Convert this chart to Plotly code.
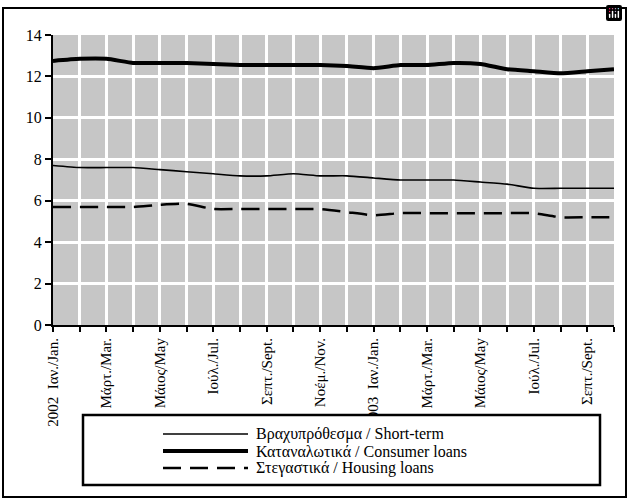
import plotly.graph_objects as go

months = ["2002-01", "2002-02", "2002-03", "2002-04", "2002-05", "2002-06",
          "2002-07", "2002-08", "2002-09", "2002-10", "2002-11", "2002-12",
          "2003-01", "2003-02", "2003-03", "2003-04", "2003-05", "2003-06",
          "2003-07", "2003-08", "2003-09", "2003-10"]

tick_labels = ["2002  Ιαν./Jan.", "", "Μάρτ./Mar.", "", "Μάιος/May", "",
               "Ιούλ./Jul.", "", "Σεπτ./Sept.", "", "Νοέμ./Nov.", "",
               "2003  Ιαν./Jan.", "", "Μάρτ./Mar.", "", "Μάιος/May", "",
               "Ιούλ./Jul.", "", "Σεπτ./Sept.", ""]

short_term = [7.7, 7.6, 7.6, 7.6, 7.5, 7.4, 7.3, 7.2, 7.2, 7.3, 7.2, 7.2,
              7.1, 7.0, 7.0, 7.0, 6.9, 6.8, 6.6, 6.6, 6.6, 6.6]
consumer = [12.75, 12.85, 12.85, 12.65, 12.65, 12.65, 12.6, 12.55, 12.55, 12.55, 12.55, 12.5,
            12.4, 12.55, 12.55, 12.65, 12.6, 12.35, 12.25, 12.15, 12.25, 12.35]
housing = [5.7, 5.7, 5.7, 5.7, 5.8, 5.85, 5.6, 5.6, 5.6, 5.6, 5.6, 5.45,
           5.3, 5.4, 5.4, 5.4, 5.4, 5.4, 5.4, 5.2, 5.2, 5.2]

names = ["Βραχυπρόθεσμα / Short-term", "Καταναλωτικά / Consumer loans",
         "Στεγαστικά / Housing loans"]

FONT = "Liberation Serif"

styles = [dict(color="black", width=1.6),
          dict(color="black", width=4),
          dict(color="black", width=2.5, dash="18px,9px")]
series = [short_term, consumer, housing]

fig = go.Figure()
for name, vals, st in zip(names, series, styles):
    fig.add_trace(go.Scatter(x=months, y=vals, name=name, mode="lines",
                             line=dict(shape="spline", smoothing=0.5, **st)))

def px_x(p):
    return (p - 53) / 561.0

def px_y(p):
    return (325 - p) / 290.0

shapes = [
    dict(type="rect", xref="paper", yref="paper",
         x0=px_x(3), x1=px_x(626), y0=px_y(497), y1=px_y(8),
         line=dict(color="black", width=2), fillcolor="rgba(0,0,0,0)", layer="above"),
    dict(type="rect", xref="paper", yref="paper",
         x0=px_x(83), x1=px_x(600), y0=px_y(485), y1=px_y(415),
         line=dict(color="black", width=2.5), fillcolor="white", layer="above"),
]
annotations = []
rows = [434, 451, 468]
for name, st, row in zip(names, styles, rows):
    shapes.append(dict(type="line", xref="paper", yref="paper",
                       x0=px_x(163), x1=px_x(248), y0=px_y(row), y1=px_y(row),
                       line=st, layer="above"))
    annotations.append(dict(xref="paper", yref="paper", x=px_x(254), y=px_y(row),
                            xanchor="left", yanchor="middle", showarrow=False,
                            text=name, font=dict(family=FONT, size=16, color="black")))

fig.update_layout(
    width=628, height=499,
    margin=dict(l=53, r=14, t=35, b=174),
    paper_bgcolor="white",
    plot_bgcolor="#c6c6c6",
    font=dict(family=FONT, color="black", size=15),
    showlegend=False,
    modebar=dict(bgcolor="rgba(0,0,0,0)", color="rgba(0,0,0,0)",
                 activecolor="rgba(0,0,0,0)"),
    xaxis=dict(type="category", categoryorder="array", categoryarray=months,
               range=[0, len(months) - 1],
               tickmode="array", tickvals=months, ticktext=tick_labels,
               tickangle=-90, ticks="outside", ticklen=5, tickwidth=2, tickcolor="black",
               showline=True, linecolor="black", linewidth=2,
               showgrid=True, gridcolor="rgb(255,255,255)", gridwidth=3,
               tickfont=dict(family=FONT, size=15), zeroline=False),
    yaxis=dict(range=[0, 14], tickmode="linear", tick0=0, dtick=2,
               ticks="outside", ticklen=6, tickwidth=2, tickcolor="black",
               showline=True, linecolor="black", linewidth=2,
               showgrid=True, gridcolor="rgb(255,255,255)", gridwidth=3,
               tickfont=dict(family=FONT, size=16), zeroline=False),
    shapes=shapes,
    annotations=annotations,
)

fig.write_html("out.html",
               post_script="document.body.style.margin='0';document.body.style.overflow='hidden';")
